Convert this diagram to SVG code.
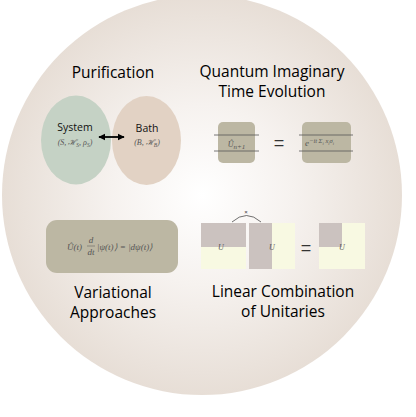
<svg xmlns="http://www.w3.org/2000/svg" width="416" height="417" viewBox="0 0 416 417">
<defs>
<radialGradient id="bg" cx="202" cy="195" r="200" gradientUnits="userSpaceOnUse">
<stop offset="0" stop-color="#ffffff"/>
<stop offset="0.45" stop-color="#f6f2ef"/>
<stop offset="1" stop-color="#e7ded6"/>
</radialGradient>
<marker id="ah" viewBox="0 0 10 10" refX="9" refY="5" markerWidth="4" markerHeight="4" orient="auto-start-reverse">
<path d="M0,0 L10,5 L0,10 z" fill="#000"/>
</marker>
<style>
.title{font-family:"Open Sans","Liberation Sans",sans-serif;font-size:15.5px;fill:#000;text-anchor:middle}
.lbl{font-family:"Open Sans","Liberation Sans",sans-serif;font-size:10.5px;fill:#111;text-anchor:middle}
.math{font-family:"Liberation Serif",serif;font-style:italic;font-size:8px;fill:#555;text-anchor:middle}
.eq{font-family:"Liberation Serif",serif;font-style:italic;font-size:9px;fill:#555}
.box{fill:#bcb7a3}
.wire{stroke:#555;stroke-width:0.8;fill:none}
.grey{fill:#cbc2bf}
.yel{fill:#f8f9e2}
</style>
</defs>
<circle cx="202" cy="195" r="200" fill="url(#bg)"/>

<g id="purification">
<text class="title" x="113" y="78">Purification</text>
<ellipse cx="76" cy="140" rx="35" ry="44.5" fill="#c5d2c5"/>
<ellipse cx="146.5" cy="140.5" rx="34.5" ry="44.5" fill="#e2d2c4"/>
<text class="lbl" x="75" y="131">System</text>
<text class="math" x="75" y="145">(<tspan>S</tspan>, ℋ<tspan font-size="5.5" dy="1.5">S</tspan><tspan dy="-1.5">, ρ</tspan><tspan font-size="5.5" dy="1.5">S</tspan><tspan dy="-1.5">)</tspan></text>
<text class="lbl" x="147" y="132">Bath</text>
<text class="math" x="147" y="145">(B, ℋ<tspan font-size="5.5" dy="1.5">B</tspan><tspan dy="-1.5">)</tspan></text>
</g>

<g id="qite">
<text class="title" x="272" y="77">Quantum Imaginary</text>
<text class="title" x="272" y="97">Time Evolution</text>
<rect class="box" x="218" y="122" width="37" height="41" rx="5"/>
<rect class="box" x="302" y="122" width="49" height="41" rx="5"/>
<text x="279" y="149" font-family="Liberation Sans,sans-serif" font-size="18" fill="#333" text-anchor="middle">=</text>
<text class="math" x="236.5" y="147" font-size="10">Û<tspan font-size="7" dy="1.5">n+1</tspan></text>
<text class="eq" x="305" y="146" font-size="8.5">e<tspan font-size="6.5" dy="-3">−it Σ</tspan><tspan font-size="4.5" dy="1.5">i</tspan><tspan font-size="6.5" dy="-1.5"> x</tspan><tspan font-size="4.5" dy="1.5">i</tspan><tspan font-size="6.5" dy="-1.5">σ</tspan><tspan font-size="4.5" dy="1.5">i</tspan></text>
</g>

<g id="variational">
<rect class="box" x="46" y="220" width="132" height="53" rx="11"/>
<text class="eq" x="67" y="250">Û(t)</text>
<text class="eq" x="91" y="243" font-size="7.5" text-anchor="middle">d</text>
<line x1="87" y1="246" x2="95" y2="246" stroke="#555" stroke-width="0.5"/>
<text class="eq" x="91" y="254.5" font-size="7.5" text-anchor="middle">dt</text>
<text class="eq" x="97" y="250">|ψ(t)⟩ = |dψ(t)⟩</text>
<text class="title" x="113" y="298">Variational</text>
<text class="title" x="113" y="318">Approaches</text>
</g>

<g id="lcu">
<rect class="yel" x="201" y="247" width="45" height="22"/>
<rect class="grey" x="201" y="223" width="45" height="24"/>
<rect class="yel" x="272" y="223" width="23" height="46"/>
<rect class="grey" x="249" y="223" width="23" height="46"/>
<rect class="yel" x="319" y="223" width="46" height="46"/>
<rect class="grey" x="319" y="223" width="23" height="24"/>
<text class="math" x="221" y="250" font-size="6.5">U</text>
<text class="math" x="272" y="250" font-size="6.5">U</text>
<text class="math" x="342" y="250" font-size="6.5">U</text>
<text x="306" y="254" font-family="Liberation Sans,sans-serif" font-size="18" fill="#333" text-anchor="middle">=</text>
<text x="246" y="214" font-family="Liberation Sans,sans-serif" font-size="6" fill="#333" text-anchor="middle">×</text>
<text class="title" x="283" y="297">Linear Combination</text>
<text class="title" x="283" y="317">of Unitaries</text>
</g>

<g id="connectors">
<line x1="99" y1="137" x2="124" y2="137" stroke="#000" stroke-width="1.8" marker-start="url(#ah)" marker-end="url(#ah)"/>
<path class="wire" d="M214,135 H259 M214,151 H259"/>
<path class="wire" d="M299,135 H353 M299,151 H353"/>
<path d="M232,222 Q246.5,209 261,222" fill="none" stroke="#333" stroke-width="0.7"/>
</g>
</svg>
